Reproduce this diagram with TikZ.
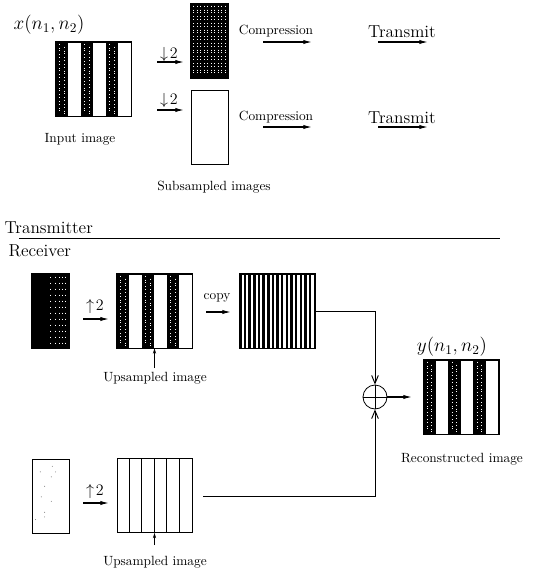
\documentclass[tikz,border=0pt]{standalone}
\usetikzlibrary{calc,arrows.meta}
\begin{document}
\begin{tikzpicture}[x=0.75pt, y=-0.75pt, font=\fontsize{10}{12}\selectfont]
    % Styles
    \tikzstyle{wideimg} = [rectangle, draw, line width=0.6pt, inner sep=0pt,
        minimum width=56.25pt, minimum height=55.5pt]
    \tikzstyle{tallimg} = [wideimg, minimum width=27.75pt]
    \tikzstyle{arrow} = [line width=0.9pt,-{Latex[length=6.5pt,width=3.2pt]}]
    \tikzstyle{pointer} = [line width=0.5pt,-{Stealth[length=4pt,width=2.4pt]}]
    \tikzstyle{sumarrow} = [line width=0.7pt,-{Straight Barb[length=6pt,width=5pt]}]
    \tikzstyle{rule} = [line width=0.7pt]
    \tikzstyle{biglabel} = [font=\fontsize{13}{15}\selectfont, inner sep=1pt]
    \tikzstyle{factor} = [font=\fontsize{12.5}{15}\selectfont, inner sep=0pt]
    \tikzstyle{mathlabel} = [font=\fontsize{14}{16}\selectfont]
    \tikzstyle{speck} = [white, line width=0.4pt, dash pattern=on 0.5pt off 2.6pt on 0.5pt off 1.4pt]

    \useasboundingbox (0,0) rectangle (534,572);

    % === TRANSMITTER ===
    % Input image
    \node [mathlabel] (xlab) at (49,25) {$x(n_1,n_2)$};
    \node [wideimg] (inp) at (93.5,79) {};
    \node (inlab) at (80,139) {Input image};

    % Subsampled images
    \node [tallimg] (sub1) at (209.5,41) {};
    \node [tallimg] (sub2) at (209.5,127) {};
    \node (sublab) at (214,187) {Subsampled images};

    % Downsampling arrows
    \coordinate (ds1s) at (157,62);  \coordinate (ds1e) at (184,62);
    \coordinate (ds2s) at (157,110); \coordinate (ds2e) at (184,110);
    \node [factor] (ds1) at (169,54) {$\downarrow\!2$};
    \node [factor] (ds2) at (169,100) {$\downarrow\!2$};
    \draw [arrow] (ds1s) -- (ds1e);
    \draw [arrow] (ds2s) -- (ds2e);

    % Compression and transmission
    \node (comp1) at (276,31) {Compression};
    \node (comp2) at (276,117) {Compression};
    \node [biglabel] (tx1) at (402,32) {Transmit};
    \node [biglabel] (tx2) at (402,118) {Transmit};
    \coordinate (c1s) at (263,42);  \coordinate (c1e) at (312,42);
    \coordinate (c2s) at (263,127); \coordinate (c2e) at (312,127);
    \coordinate (t1s) at (378,42);  \coordinate (t1e) at (428,42);
    \coordinate (t2s) at (378,127); \coordinate (t2e) at (428,127);
    \draw [arrow] (c1s) -- (c1e);
    \draw [arrow] (c2s) -- (c2e);
    \draw [arrow] (t1s) -- (t1e);
    \draw [arrow] (t2s) -- (t2e);

    % === SEPARATOR ===
    \node [biglabel, anchor=west] (txlab) at (3,228) {Transmitter};
    \node [biglabel, anchor=west] (rxlab) at (7,251) {Receiver};
    \coordinate (sepl) at (19,238);
    \coordinate (sepr) at (500,238);
    \draw [rule] (sepl) -- (sepr);

    % === RECEIVER ===
    % Upper branch
    \node [tallimg] (rx1) at (50.5,311) {};
    \node [wideimg] (up1) at (154.5,311) {};
    \node [wideimg] (cp) at (277,311) {};
    \node [factor] (us1) at (95,306) {$\uparrow\!2$};
    \node (copylab) at (217,298) {copy};
    \coordinate (us1s) at (83,319);  \coordinate (us1e) at (109,319);
    \coordinate (cps) at (206,312);  \coordinate (cpe) at (231,312);
    \draw [arrow] (us1s) -- (us1e);
    \draw [arrow] (cps) -- (cpe);
    \node (uplab1) at (155,378) {Upsampled image};
    \coordinate (up1tail) at (154.5,368);
    \draw [pointer] (up1tail) -- (up1.south);

    % Lower branch
    \node [tallimg] (rx2) at (50.5,496) {};
    \node [wideimg] (up2) at (154.5,495.5) {};
    \node [factor] (us2) at (95,491) {$\uparrow\!2$};
    \coordinate (us2s) at (83,503);  \coordinate (us2e) at (109,503);
    \draw [arrow] (us2s) -- (us2e);
    \node (uplab2) at (155,562) {Upsampled image};
    \coordinate (up2tail) at (154.5,545);
    \draw [pointer] (up2tail) -- (up2.south);

    % Adder and output
    \node [circle, draw, line width=0.6pt, minimum size=18pt, inner sep=0pt] (sum) at (375,397) {};
    \draw [line width=0.5pt] (sum.north) -- (sum.south) (sum.west) -- (sum.east);
    \coordinate (up2out) at (203,496);
    \coordinate (sumout) at (412,397);
    \draw [sumarrow] (cp.east) -| (sum.north);
    \draw [sumarrow] (up2out) -| (sum.south);
    \draw [arrow] (sum.east) -- (sumout);
    \node [mathlabel] (ylab) at (452,347) {$y(n_1,n_2)$};
    \node [wideimg] (rec) at (461,397) {};
    \node (reclab) at (462,459) {Reconstructed image};

    % === TEXTURES ===
    % bar images
    \foreach \n in {inp,up1,rec}
        \foreach \i in {0,2,4} {
            \fill [black] ($(\n.north west)+(12.5*\i,0)$) rectangle ++(12.5,74);
            \draw [speck] ($(\n.north west)+(12.5*\i+4,2)$) -- ++(0,70);
            \draw [speck] ($(\n.north west)+(12.5*\i+8.5,5)$) -- ++(0,67);
        }
    % dark subsampled image
    \fill [black] (sub1.north west) rectangle (sub1.south east);
    \foreach \i in {3,6.5,...,35}
        \draw [speck] ($(sub1.north west)+(\i,2)$) -- ++(0,70);
    % received dark image
    \fill [black] (rx1.north west) rectangle (rx1.south east);
    \foreach \i in {19,24,28,31,34}
        \draw [white, line width=0.4pt, dash pattern=on 0.5pt off 4pt] ($(rx1.north west)+(\i,3)$) -- ++(0,68);
    % copied fine stripes
    \foreach \i in {0,...,15}
        \fill [black] ($(cp.north west)+(4.65*\i,0)$) rectangle ++(2.5,74);
    % received blank image
    \foreach \a/\b in {8.7/13.3, 20.7/7.7, 24/13.3, 19.7/18.3, 13/27.7, 9.7/38.3, 19.7/42.7, 13/53.7, 13/58.3, 4/61}
        \fill [black!60] ($(rx2.north west)+(\a,\b)$) circle (0.35pt);
    % upsampled blank image
    \foreach \i in {2,4,5}
        \draw [line width=0.4pt] ($(up2.north west)+(12.5*\i,0)$) -- ++(0,74);
    \foreach \i in {1,3}
        \draw [line width=0.8pt] ($(up2.north west)+(12.5*\i,0)$) -- ++(0,74);
    % borders again
    \foreach \n in {inp,sub1,up1,cp,rec,rx1}
        \draw [line width=0.6pt] (\n.north west) rectangle (\n.south east);

\end{tikzpicture}
\end{document}
